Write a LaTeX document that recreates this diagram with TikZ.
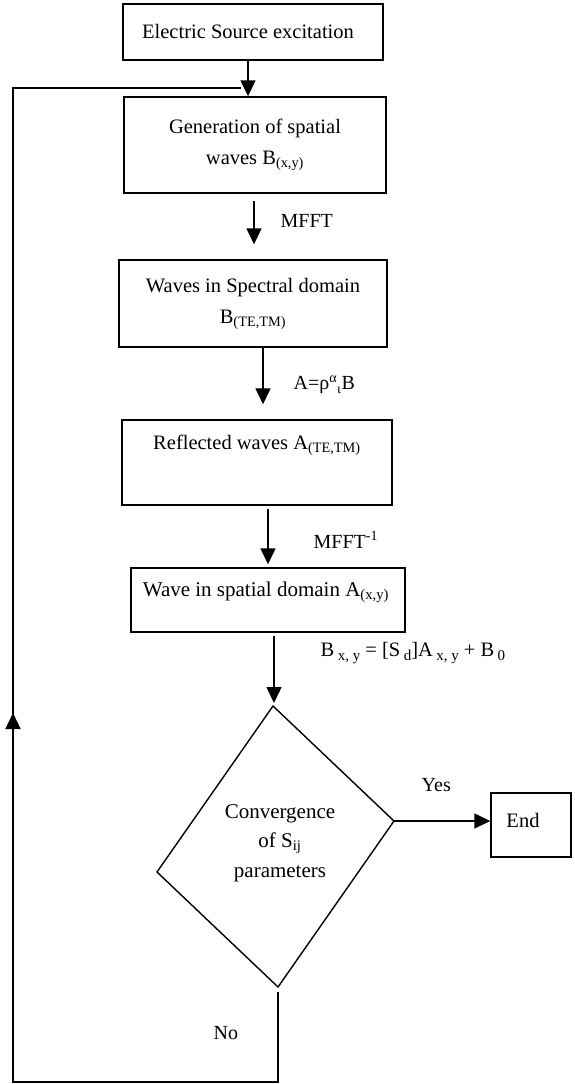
\documentclass[tikz,border=0pt]{standalone}
\usepackage{fontspec}
\setmainfont{Liberation Serif}
\usetikzlibrary{arrows.meta}
\newcommand\lsub[1]{\raisebox{-0.4ex}{\fontsize{15}{15}\selectfont #1}}
\begin{document}
\begin{tikzpicture}[x=1pt,y=-1pt,line width=1.4pt,
  box/.style={draw,line width=1.4pt,inner sep=0pt,anchor=center,align=center,
              font=\fontsize{20.5}{31}\selectfont},
  txt/.style={font=\fontsize{20.5}{28}\selectfont,align=center,inner sep=0pt},
  arr/.style={-{Triangle[width=15pt,length=16pt]}},
  lbl/.style={font=\fontsize{20}{24}\selectfont,inner sep=0pt,anchor=west}]
\useasboundingbox (0,0) rectangle (575,1084);

% boxes
\node[box,minimum width=260pt,minimum height=56pt] (b1) at (253,32) {};
\node[txt] (t1) at (248,31) {Electric Source excitation};
\node[box,minimum width=262pt,minimum height=96pt] (b2) at (255,145)
  {Generation of spatial\\ waves B\textsubscript{(x,y)}};
\node[box,minimum width=268pt,minimum height=87pt] (b3) at (253,303.5)
  {Waves in Spectral domain\\ B\textsubscript{(TE,TM)}};
\node[box,minimum width=270pt,minimum height=85pt] (b4) at (257,462.5) {};
\node[txt] (t4) at (257,445) {Reflected waves A\textsubscript{(TE,TM)}};
\node[box,minimum width=274pt,minimum height=64pt] (b5) at (268,600) {};
\node[txt,font=\fontsize{21}{28}\selectfont] (t5) at (266,592) {Wave in spatial domain A\textsubscript{(x,y)}};
\node[box,minimum width=80pt,minimum height=64pt] (end) at (531,825) {};
\node[txt] (tend) at (523,820) {End};

% decision
\coordinate (dT) at (273,706);
\coordinate (dR) at (394,821);
\coordinate (dB) at (278,987);
\coordinate (dL) at (157,872);
\draw (dT) -- (dR) -- (dB) -- (dL) -- cycle;
\node[txt,font=\fontsize{21}{29.5}\selectfont] (dec) at (280,843)
  {Convergence\\ of S\textsubscript{ij}\\ parameters};

% connectors
\coordinate (x1) at (248,0);
\draw[arr] (b1.south -| x1) -- (b2.north -| x1);
\coordinate (x2) at (254,0);
\draw[arr,shorten <=7pt,shorten >=15pt] (b2.south -| x2) -- (b3.north -| x2);
\coordinate (x3) at (263,0);
\draw[arr,shorten >=15pt] (b3.south -| x3) -- (b4.north -| x3);
\coordinate (x4) at (268,0);
\draw[arr,shorten <=3pt,shorten >=3pt] (b4.south -| x4) -- (b5.north -| x4);
\coordinate (x5) at (274,0);
\draw[arr,shorten <=3pt,shorten >=3pt] (b5.south -| x5) -- (x5 |- dT);
\draw[arr] (dR) -- (end.west |- dR);

% feedback loop
\coordinate (c0) at (278,992);
\coordinate (c1) at (278,1082);
\coordinate (c2) at (13,1082);
\coordinate (c3) at (13,88);
\coordinate (c4) at (241,88);
\coordinate (cm) at (13,713);
\draw (c0) -- (c1) -- (c2) -- (c3) -- (c4);
\draw[arr] (c2) -- (cm);

% labels
\node[lbl] (l1) at (280,221) {MFFT};
\node[lbl] (l2) at (293,385) {A=ρ\textsuperscript{α}\textsubscript{ι}B};
\node[lbl] (l3) at (313,540) {MFFT\textsuperscript{-1}};
\node[lbl,font=\fontsize{20.5}{24}\selectfont] (l4) at (320,653)
  {B\,\lsub{x, y} = [S\,\lsub{d}]A\,\lsub{x, y} + B\,\lsub{0}};
\node[lbl] (l5) at (421,785) {Yes};
\node[lbl] (l6) at (213,1033) {No};
\end{tikzpicture}
\end{document}
